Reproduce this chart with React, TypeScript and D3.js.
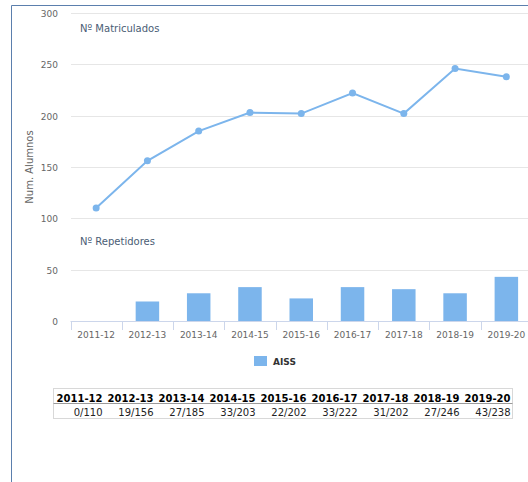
import React, { useEffect, useRef } from 'react';
import * as d3 from 'd3';

const seasons = ['2011-12', '2012-13', '2013-14', '2014-15', '2015-16', '2016-17', '2017-18', '2018-19', '2019-20'];
const enrolled = [110, 156, 185, 203, 202, 222, 202, 246, 238];
const repeaters = [0, 19, 27, 33, 22, 33, 31, 27, 43];
const yTicks = [0, 50, 100, 150, 200, 250, 300];
const seriesName = 'AISS';

const W = 528;
const H = 482;

const App: React.FC = () => {
  const svgRef = useRef<SVGSVGElement>(null);

  useEffect(() => {
    const svg = d3.select(svgRef.current);
    svg.selectAll('*').remove();

    const font = 'DejaVu Sans, sans-serif';
    const color = '#7cb5ec';

    // panel border (top + left)
    svg.append('path')
      .attr('d', `M11.5,${H} V5.5 H${W}`)
      .attr('fill', 'none')
      .attr('stroke', '#5b7fad')
      .attr('stroke-width', 1);

    const x = d3.scaleBand<string>().domain(seasons).range([70.5, 532]);
    const y = d3.scaleLinear().domain([0, 300]).range([321, 13]);

    // grid
    svg.append('g')
      .selectAll('line')
      .data(yTicks)
      .join('line')
      .attr('x1', 71)
      .attr('x2', W)
      .attr('y1', d => Math.round(y(d)) + 0.5)
      .attr('y2', d => Math.round(y(d)) + 0.5)
      .attr('stroke', '#e6e6e6');

    // y labels
    svg.append('g')
      .selectAll('text')
      .data(yTicks)
      .join('text')
      .attr('x', 58)
      .attr('y', d => y(d) + 4)
      .attr('text-anchor', 'end')
      .attr('font-family', font)
      .attr('font-size', 9)
      .attr('fill', '#666')
      .text(d => d);

    svg.append('text')
      .attr('transform', `translate(33,${y(150)}) rotate(-90)`)
      .attr('text-anchor', 'middle')
      .attr('font-family', font)
      .attr('font-size', 10)
      .attr('fill', '#666')
      .text('Num. Alumnos');

    // band labels
    svg.append('text')
      .attr('x', 80)
      .attr('y', y(300) + 19)
      .attr('font-family', font)
      .attr('font-size', 10)
      .attr('fill', '#4a5d75')
      .text('Nº Matriculados');

    svg.append('text')
      .attr('x', 80)
      .attr('y', y(100) + 27)
      .attr('font-family', font)
      .attr('font-size', 10)
      .attr('fill', '#4a5d75')
      .text('Nº Repetidores');

    // bars
    const bw = 23.5;
    svg.append('g')
      .selectAll('rect')
      .data(repeaters)
      .join('rect')
      .attr('x', (d, i) => (x(seasons[i]) ?? 0) + x.bandwidth() / 2 - bw / 2)
      .attr('y', d => y(d))
      .attr('width', bw)
      .attr('height', d => y(0) - y(d))
      .attr('fill', color);

    // x axis
    svg.append('line')
      .attr('x1', 70.5)
      .attr('x2', W)
      .attr('y1', 321.5)
      .attr('y2', 321.5)
      .attr('stroke', '#ccd6eb');

    svg.append('g')
      .selectAll('line')
      .data(seasons)
      .join('line')
      .attr('x1', d => Math.round(x(d) ?? 0) + 0.5)
      .attr('x2', d => Math.round(x(d) ?? 0) + 0.5)
      .attr('y1', 321)
      .attr('y2', 330)
      .attr('stroke', '#ccd6eb');

    svg.append('g')
      .selectAll('text')
      .data(seasons)
      .join('text')
      .attr('x', d => (x(d) ?? 0) + x.bandwidth() / 2)
      .attr('y', 337.5)
      .attr('text-anchor', 'middle')
      .attr('font-family', font)
      .attr('font-size', 9)
      .attr('fill', '#666')
      .text(d => d);

    // line
    const cx = (i: number) => (x(seasons[i]) ?? 0) + x.bandwidth() / 2;
    const line = d3.line<number>()
      .x((d, i) => cx(i))
      .y(d => y(d));

    svg.append('path')
      .datum(enrolled)
      .attr('d', line)
      .attr('fill', 'none')
      .attr('stroke', color)
      .attr('stroke-width', 2);

    svg.append('g')
      .selectAll('circle')
      .data(enrolled)
      .join('circle')
      .attr('cx', (d, i) => cx(i))
      .attr('cy', d => y(d))
      .attr('r', 3.5)
      .attr('fill', color);

    // legend
    svg.append('rect')
      .attr('x', 254)
      .attr('y', 356)
      .attr('width', 13)
      .attr('height', 10)
      .attr('fill', color);

    svg.append('text')
      .attr('x', 273)
      .attr('y', 365)
      .attr('font-family', font)
      .attr('font-size', 9)
      .attr('font-weight', 'bold')
      .attr('fill', '#333')
      .text(seriesName);

    // data table
    const tx = d3.scaleBand<string>().domain(seasons).range([53.5, 512.5]);
    const table = svg.append('g');
    table.append('rect')
      .attr('x', 53.5)
      .attr('y', 388.5)
      .attr('width', 459)
      .attr('height', 30)
      .attr('fill', 'white')
      .attr('stroke', '#d8d8d8');
    table.append('line')
      .attr('x1', 53.5)
      .attr('x2', 512.5)
      .attr('y1', 403.5)
      .attr('y2', 403.5)
      .attr('stroke', '#9a9a9a');

    table.selectAll('text.h')
      .data(seasons)
      .join('text')
      .attr('class', 'h')
      .attr('x', d => (tx(d) ?? 0) + tx.bandwidth() - 2)
      .attr('y', 401.5)
      .attr('text-anchor', 'end')
      .attr('font-family', font)
      .attr('font-size', 10)
      .attr('font-weight', 'bold')
      .attr('fill', '#000')
      .text(d => d);

    table.selectAll('text.v')
      .data(seasons)
      .join('text')
      .attr('class', 'v')
      .attr('x', d => (tx(d) ?? 0) + tx.bandwidth() - 2)
      .attr('y', 416)
      .attr('text-anchor', 'end')
      .attr('font-family', font)
      .attr('font-size', 10)
      .attr('fill', '#222')
      .text((d, i) => `${repeaters[i]}/${enrolled[i]}`);
  }, []);

  return (
    <svg
      ref={svgRef}
      width={W}
      height={H}
      style={{ position: 'absolute', left: 0, top: 0, background: 'white' }}
    />
  );
};

export default App;
